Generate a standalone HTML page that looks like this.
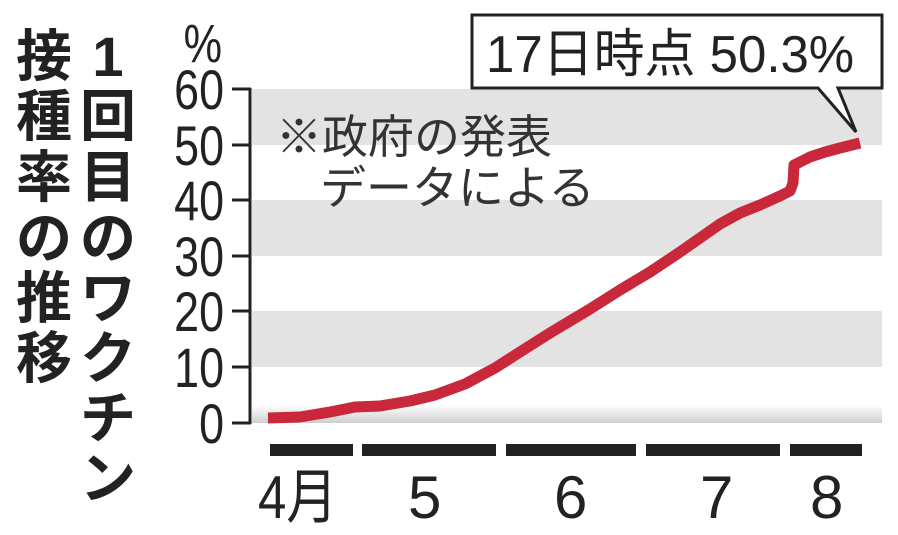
<!DOCTYPE html>
<html><head><meta charset="utf-8"><style>
html,body{margin:0;padding:0;background:#fff;}
svg{display:block;}
</style></head><body>
<svg width="898" height="535" viewBox="0 0 898 535" xmlns="http://www.w3.org/2000/svg" font-family="'Liberation Sans','Noto Sans CJK JP',sans-serif">
<defs>
<linearGradient id="g0" x1="0" y1="0" x2="0" y2="1">
<stop offset="0" stop-color="#fff"/><stop offset="1" stop-color="#cfcfcf"/>
</linearGradient>
</defs>
<rect x="252" y="89" width="630" height="56" fill="#e3e3e4"/>
<rect x="252" y="200" width="630" height="56" fill="#e3e3e4"/>
<rect x="252" y="311" width="630" height="56" fill="#e3e3e4"/>
<rect x="252" y="405" width="630" height="18" fill="url(#g0)"/>
<g stroke="#222" stroke-width="3" fill="none">
<line x1="250" y1="88" x2="250" y2="424"/>
<line x1="232" y1="89" x2="251" y2="89"/>
<line x1="232" y1="145" x2="251" y2="145"/>
<line x1="232" y1="200" x2="251" y2="200"/>
<line x1="232" y1="256" x2="251" y2="256"/>
<line x1="232" y1="311" x2="251" y2="311"/>
<line x1="232" y1="367" x2="251" y2="367"/>
<line x1="232" y1="423" x2="251" y2="423"/>
</g>
<g font-size="56" fill="#222" text-anchor="end">
<text x="224" y="109" transform="translate(224 0) scale(0.8 1) translate(-224 0)">60</text>
<text x="224" y="165" transform="translate(224 0) scale(0.8 1) translate(-224 0)">50</text>
<text x="224" y="220" transform="translate(224 0) scale(0.8 1) translate(-224 0)">40</text>
<text x="224" y="276" transform="translate(224 0) scale(0.8 1) translate(-224 0)">30</text>
<text x="224" y="331" transform="translate(224 0) scale(0.8 1) translate(-224 0)">20</text>
<text x="224" y="387" transform="translate(224 0) scale(0.8 1) translate(-224 0)">10</text>
<text x="224" y="443" transform="translate(224 0) scale(0.8 1) translate(-224 0)">0</text>
<text x="222" y="62" font-size="54" transform="translate(222 0) scale(0.8 1) translate(-222 0)">%</text>
</g>
<g font-size="46" fill="#333">
<text x="276" y="153">※政府の発表</text>
<text x="320" y="204">データによる</text>
</g>
<polyline fill="none" stroke="#c8283a" stroke-width="11" stroke-linejoin="round" stroke-linecap="butt"
points="268,418 300,417 330,412 355,407 380,406 410,401 435,395 465,384 495,368 520,352 550,333 590,309 620,290 650,272 680,252 700,238 720,224 740,213 760,205 780,196 790,191 793,183 794,165 810,157 825,152 840,148 860,143"/>
<g fill="#222">
<rect x="270" y="444" width="83" height="12"/>
<rect x="362" y="444" width="134" height="12"/>
<rect x="506" y="444" width="130" height="12"/>
<rect x="646" y="444" width="134" height="12"/>
<rect x="790" y="444" width="72" height="12"/>
</g>
<g font-size="60" fill="#222">
<text x="258" y="518" transform="translate(258 0) scale(0.85 1) translate(-258 0)">4月</text>
<text x="408" y="518">5</text>
<text x="554" y="518">6</text>
<text x="700" y="518">7</text>
<text x="810" y="518">8</text>
</g>
<path d="M472,15 H882 V88 H838 L856,132 L818,88 H472 Z" fill="#fff" stroke="#222" stroke-width="3" stroke-linejoin="miter"/>
<text x="486" y="72" font-size="52" fill="#222" transform="translate(486 0) scale(0.98 1) translate(-486 0)">17日時点 50.3%</text>
<g font-size="56" font-weight="bold" fill="#222" text-anchor="middle">
<text x="44" y="76">接</text>
<text x="44" y="136">種</text>
<text x="44" y="197">率</text>
<text x="44" y="258">の</text>
<text x="44" y="318">推</text>
<text x="44" y="378">移</text>
<text x="108" y="76">1</text>
<text x="108" y="136">回</text>
<text x="108" y="197">目</text>
<text x="108" y="258">の</text>
<text x="108" y="318">ワ</text>
<text x="108" y="378">ク</text>
<text x="108" y="438">チ</text>
<text x="108" y="498">ン</text>
</g>
</svg>
</body></html>
